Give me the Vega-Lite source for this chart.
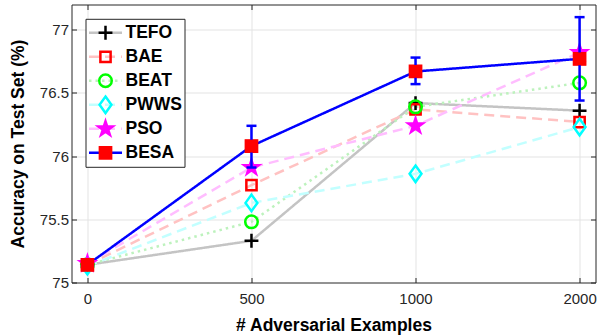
{
  "$schema": "https://vega.github.io/schema/vega-lite/v6.json",
  "autosize": "none",
  "padding": {"left": 71.5, "top": 4.5, "right": 2.5, "bottom": 52.5},
  "width": 524,
  "height": 278,
  "config": {
    "font": "Liberation Sans",
    "view": {"stroke": null},
    "axis": {"labelFont": "Liberation Sans", "titleFont": "Liberation Sans"},
    "legend": {"labelFont": "Liberation Sans"}
  },
  "data": {
    "values": [
      {"n": "0", "method": "TEFO", "acc": 75.14},
      {"n": "500", "method": "TEFO", "acc": 75.33},
      {"n": "1000", "method": "TEFO", "acc": 76.42},
      {"n": "2000", "method": "TEFO", "acc": 76.36},
      {"n": "0", "method": "BAE", "acc": 75.14},
      {"n": "500", "method": "BAE", "acc": 75.77},
      {"n": "1000", "method": "BAE", "acc": 76.37},
      {"n": "2000", "method": "BAE", "acc": 76.27},
      {"n": "0", "method": "BEAT", "acc": 75.14},
      {"n": "500", "method": "BEAT", "acc": 75.48},
      {"n": "1000", "method": "BEAT", "acc": 76.39},
      {"n": "2000", "method": "BEAT", "acc": 76.58},
      {"n": "0", "method": "PWWS", "acc": 75.13},
      {"n": "500", "method": "PWWS", "acc": 75.63},
      {"n": "1000", "method": "PWWS", "acc": 75.86},
      {"n": "2000", "method": "PWWS", "acc": 76.23},
      {"n": "0", "method": "PSO", "acc": 75.15},
      {"n": "500", "method": "PSO", "acc": 75.91},
      {"n": "1000", "method": "PSO", "acc": 76.24},
      {"n": "2000", "method": "PSO", "acc": 76.82},
      {"n": "0", "method": "BESA", "acc": 75.14},
      {"n": "500", "method": "BESA", "acc": 76.08, "lo": 75.91, "hi": 76.24},
      {"n": "1000", "method": "BESA", "acc": 76.67, "lo": 76.57, "hi": 76.78},
      {"n": "2000", "method": "BESA", "acc": 76.77, "lo": 76.44, "hi": 77.10}
    ]
  },
  "resolve": {"axis": {"x": "independent", "y": "independent"}},
  "layer": [
    {
      "mark": {"type": "line", "strokeWidth": 2.5},
      "encoding": {
        "x": {
          "field": "n", "type": "ordinal",
          "scale": {"type": "point", "domain": ["0", "500", "1000", "2000"], "padding": 0.097},
          "axis": {
            "orient": "bottom", "title": "# Adversarial Examples", "labelAngle": 0,
            "labelFontSize": 15, "labelColor": "#262626", "labelPadding": 14,
            "titleFontSize": 17.5, "titleFontWeight": "bold", "titleColor": "#000000", "titlePadding": 10,
            "tickSize": -5, "tickColor": "#262626", "tickWidth": 1,
            "domain": true, "domainColor": "#262626", "domainWidth": 1,
            "grid": true, "gridColor": "#e3e3e3", "gridWidth": 1
          }
        },
        "y": {
          "field": "acc", "type": "quantitative",
          "scale": {"domain": [75, 77.2], "nice": false, "zero": false},
          "axis": {
            "orient": "left", "title": "Accuracy on Test Set (%)",
            "values": [75, 75.5, 76, 76.5, 77], "format": "~g",
            "labelFontSize": 15, "labelColor": "#262626", "labelPadding": 8,
            "titleFontSize": 17.5, "titleFontWeight": "bold", "titleColor": "#000000", "titlePadding": 12,
            "tickSize": -5, "tickColor": "#262626", "tickWidth": 1,
            "domain": true, "domainColor": "#262626", "domainWidth": 1,
            "grid": true, "gridColor": "#e3e3e3", "gridWidth": 1,
            "gridOpacity": {"condition": {"test": "datum.value <= 75", "value": 0}, "value": 1}
          }
        },
        "color": {
          "field": "method", "type": "nominal",
          "scale": {"domain": ["TEFO", "BAE", "BEAT", "PWWS", "PSO", "BESA"], "range": ["#c4c4c4", "#ffc2c2", "#bdf2bd", "#c2ffff", "#ffbdff", "#0000ff"]},
          "legend": {"orient": "none", "legendX": 14, "legendY": 14.3, "title": null, "symbolType": "stroke", "symbolSize": 1089, "symbolStrokeWidth": 2.5, "labelFontSize": 17.5, "labelFontWeight": "bold", "labelOpacity": 0, "labelOffset": 2, "fillColor": "#ffffff", "strokeColor": "#262626", "padding": 2, "rowPadding": 0, "clipHeight": 24}
        },
        "strokeDash": {
          "field": "method", "type": "nominal",
          "scale": {"domain": ["TEFO", "BAE", "BEAT", "PWWS", "PSO", "BESA"], "range": [[1, 0], [10, 6], [2.5, 4], [10, 6], [10, 6], [1, 0]]},
          "legend": {"orient": "none", "legendX": 14, "legendY": 14.3, "title": null, "symbolType": "stroke", "symbolSize": 1089, "symbolStrokeWidth": 2.5, "labelFontSize": 17.5, "labelFontWeight": "bold", "labelOpacity": 0, "labelOffset": 2, "fillColor": "#ffffff", "strokeColor": "#262626", "padding": 2, "rowPadding": 0, "clipHeight": 24}
        }
      }
    },
    {
      "mark": {"type": "point", "size": 1089, "strokeWidth": 2.5, "opacity": 1},
      "encoding": {
        "x": {"field": "n", "type": "ordinal", "scale": {"type": "point", "domain": ["0", "500", "1000", "2000"], "padding": 0.097}, "axis": null},
        "y": {"field": "acc", "type": "quantitative", "scale": {"domain": [75, 77.2], "nice": false, "zero": false}, "axis": null},
        "shape": {
          "field": "method", "type": "nominal",
          "scale": {"domain": ["BESA", "PSO", "PWWS", "BEAT", "BAE", "TEFO"], "range": [
            "M-0.34,-0.34H0.34V0.34H-0.34Z",
            "M0,-0.45L0.101,-0.139L0.428,-0.139L0.164,0.053L0.265,0.364L0,0.172L-0.265,0.364L-0.164,0.053L-0.428,-0.139L-0.101,-0.139Z",
            "M0,-0.5L0.36,0L0,0.5L-0.36,0Z",
            "M0.38,0A0.38,0.38,0,1,1,-0.38,0A0.38,0.38,0,1,1,0.38,0Z",
            "M-0.31,-0.31H0.31V0.31H-0.31Z",
            "M-0.42,0H0.42M0,-0.42V0.42"
          ]},
          "legend": {"orient": "none", "legendX": 14, "legendY": 14.3, "title": null, "values": ["TEFO", "BAE", "BEAT", "PWWS", "PSO", "BESA"], "symbolSize": 1089, "symbolStrokeWidth": 2.5, "symbolOffset": 0, "labelFontSize": 17.5, "labelFontWeight": "bold", "labelColor": "#000000", "labelOffset": 2, "padding": 2, "rowPadding": 0, "clipHeight": 24}
        },
        "stroke": {
          "field": "method", "type": "nominal",
          "scale": {"domain": ["BESA", "PSO", "PWWS", "BEAT", "BAE", "TEFO"], "range": ["#ff0000", "#ff00ff", "#00ffff", "#00ff00", "#ff0000", "#000000"]},
          "legend": {"orient": "none", "legendX": 14, "legendY": 14.3, "title": null, "values": ["TEFO", "BAE", "BEAT", "PWWS", "PSO", "BESA"], "symbolSize": 1089, "symbolStrokeWidth": 2.5, "symbolOffset": 0, "labelFontSize": 17.5, "labelFontWeight": "bold", "labelColor": "#000000", "labelOffset": 2, "padding": 2, "rowPadding": 0, "clipHeight": 24}
        },
        "fill": {
          "field": "method", "type": "nominal",
          "scale": {"domain": ["BESA", "PSO", "PWWS", "BEAT", "BAE", "TEFO"], "range": ["#ff0000", "#ff00ff", "transparent", "transparent", "transparent", "transparent"]},
          "legend": {"orient": "none", "legendX": 14, "legendY": 14.3, "title": null, "values": ["TEFO", "BAE", "BEAT", "PWWS", "PSO", "BESA"], "symbolSize": 1089, "symbolStrokeWidth": 2.5, "symbolOffset": 0, "labelFontSize": 17.5, "labelFontWeight": "bold", "labelColor": "#000000", "labelOffset": 2, "padding": 2, "rowPadding": 0, "clipHeight": 24}
        }
      }
    },
    {
      "transform": [{"filter": "isValid(datum.lo)"}],
      "mark": {"type": "rule", "color": "#0000ff", "strokeWidth": 2.5},
      "encoding": {
        "x": {"field": "n", "type": "ordinal", "scale": {"type": "point", "domain": ["0", "500", "1000", "2000"], "padding": 0.097}, "axis": null},
        "y": {"field": "lo", "type": "quantitative", "scale": {"domain": [75, 77.2], "nice": false, "zero": false}, "axis": null},
        "y2": {"field": "hi"}
      }
    },
    {
      "transform": [{"filter": "isValid(datum.lo)"}],
      "mark": {"type": "tick", "color": "#0000ff", "thickness": 2.5, "size": 10, "opacity": 1, "orient": "horizontal"},
      "encoding": {
        "x": {"field": "n", "type": "ordinal", "scale": {"type": "point", "domain": ["0", "500", "1000", "2000"], "padding": 0.097}, "axis": null},
        "y": {"field": "lo", "type": "quantitative", "scale": {"domain": [75, 77.2], "nice": false, "zero": false}, "axis": null}
      }
    },
    {
      "transform": [{"filter": "isValid(datum.hi)"}],
      "mark": {"type": "tick", "color": "#0000ff", "thickness": 2.5, "size": 10, "opacity": 1, "orient": "horizontal"},
      "encoding": {
        "x": {"field": "n", "type": "ordinal", "scale": {"type": "point", "domain": ["0", "500", "1000", "2000"], "padding": 0.097}, "axis": null},
        "y": {"field": "hi", "type": "quantitative", "scale": {"domain": [75, 77.2], "nice": false, "zero": false}, "axis": null}
      }
    },
    {
      "transform": [{"filter": "datum.method === 'BESA'"}],
      "mark": {"type": "point", "size": 1089, "strokeWidth": 1.5, "opacity": 1, "shape": "M-0.34,-0.34H0.34V0.34H-0.34Z", "fill": "#ff0000", "stroke": "#ff0000"},
      "encoding": {
        "x": {
          "field": "n", "type": "ordinal",
          "scale": {"type": "point", "domain": ["0", "500", "1000", "2000"], "padding": 0.097},
          "axis": {"orient": "top", "labels": false, "title": null, "grid": false, "tickSize": -5, "tickColor": "#262626", "domain": true, "domainColor": "#262626"}
        },
        "y": {
          "field": "acc", "type": "quantitative",
          "scale": {"domain": [75, 77.2], "nice": false, "zero": false},
          "axis": {"orient": "right", "labels": false, "title": null, "grid": false, "values": [75, 75.5, 76, 76.5, 77], "tickSize": -5, "tickColor": "#262626", "domain": true, "domainColor": "#262626"}
        }
      }
    }
  ]
}
